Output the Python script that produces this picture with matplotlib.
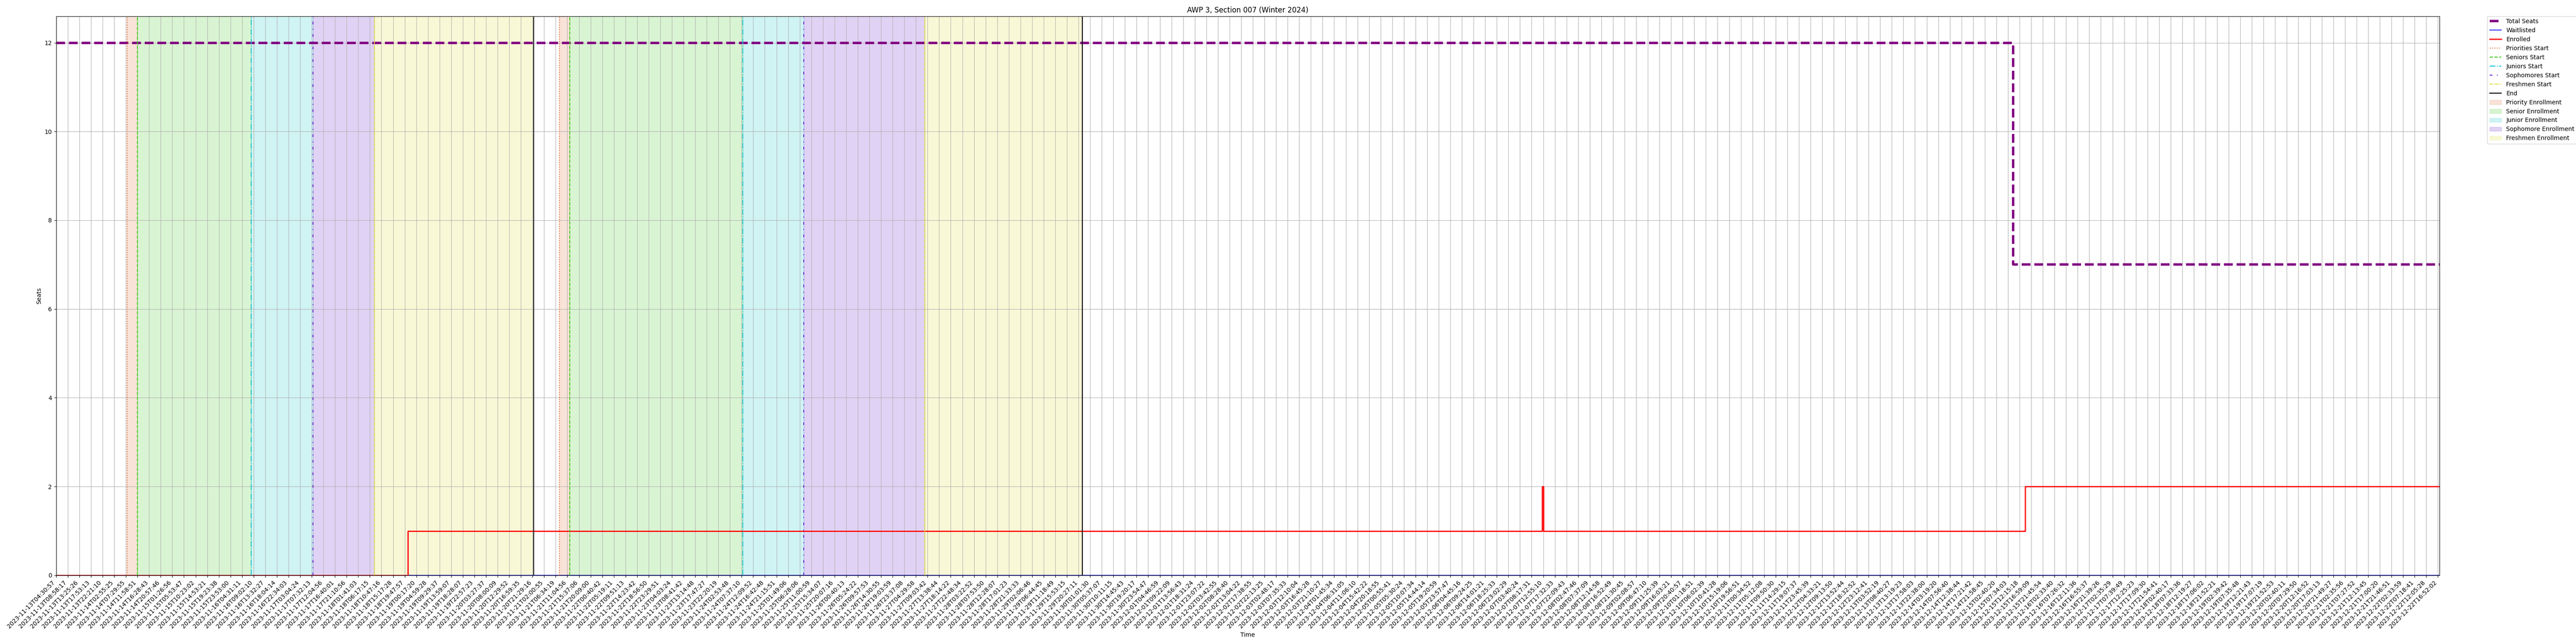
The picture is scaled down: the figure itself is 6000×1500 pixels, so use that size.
import matplotlib
matplotlib.use("Agg")
import numpy as np
import pandas as pd
import matplotlib.pyplot as plt
import matplotlib.dates as mdates

title = "AWP 3, Section 007 (Winter 2024)"

# sampled timestamps shown as tick labels (one tick every k samples, evenly spaced on the axis)
tick_labels = [
    "2023-11-13T04:30:57", "2023-11-13T08:58:17", "2023-11-13T13:25:26", "2023-11-13T17:53:13",
    "2023-11-13T22:21:10", "2023-11-14T02:55:25", "2023-11-14T07:29:55", "2023-11-14T11:58:51",
    "2023-11-14T16:28:43", "2023-11-14T20:57:46", "2023-11-15T01:26:56", "2023-11-15T05:53:47",
    "2023-11-15T10:23:02", "2023-11-15T14:53:21", "2023-11-15T19:23:38", "2023-11-15T23:53:00",
    "2023-11-16T04:31:11", "2023-11-16T09:02:10", "2023-11-16T13:32:27", "2023-11-16T18:04:14",
    "2023-11-16T22:34:03", "2023-11-17T03:04:24", "2023-11-17T07:32:13", "2023-11-17T12:04:56",
    "2023-11-17T16:40:01", "2023-11-17T21:10:56", "2023-11-18T01:41:03", "2023-11-18T06:17:15",
    "2023-11-18T10:47:16", "2023-11-18T15:17:28", "2023-11-18T19:47:57", "2023-11-19T00:17:20",
    "2023-11-19T04:59:28", "2023-11-19T09:29:37", "2023-11-19T13:59:07", "2023-11-19T18:28:07",
    "2023-11-19T22:57:23", "2023-11-20T03:27:37", "2023-11-20T08:00:09", "2023-11-20T12:29:52",
    "2023-11-20T16:59:35", "2023-11-20T21:29:16", "2023-11-21T02:00:55", "2023-11-21T06:34:19",
    "2023-11-21T11:04:56", "2023-11-21T15:37:06", "2023-11-21T20:09:00", "2023-11-22T00:40:42",
    "2023-11-22T05:19:11", "2023-11-22T09:51:13", "2023-11-22T14:23:42", "2023-11-22T18:56:50",
    "2023-11-22T23:29:51", "2023-11-23T04:03:24", "2023-11-23T08:41:42", "2023-11-23T13:14:48",
    "2023-11-23T17:47:27", "2023-11-23T22:20:19", "2023-11-24T02:53:48", "2023-11-24T07:37:10",
    "2023-11-24T12:09:52", "2023-11-24T16:42:48", "2023-11-24T21:15:51", "2023-11-25T01:49:06",
    "2023-11-25T06:28:06", "2023-11-25T11:00:59", "2023-11-25T15:34:07", "2023-11-25T20:07:16",
    "2023-11-26T00:40:13", "2023-11-26T05:24:22", "2023-11-26T09:57:53", "2023-11-26T14:30:55",
    "2023-11-26T19:03:59", "2023-11-26T23:37:08", "2023-11-27T04:29:58", "2023-11-27T09:03:42",
    "2023-11-27T13:38:44", "2023-11-27T18:14:22", "2023-11-27T22:48:34", "2023-11-28T03:22:52",
    "2023-11-28T07:53:50", "2023-11-28T12:28:07", "2023-11-28T17:01:23", "2023-11-28T21:33:33",
    "2023-11-29T02:06:46", "2023-11-29T06:44:45", "2023-11-29T11:18:49", "2023-11-29T15:53:15",
    "2023-11-29T20:27:11", "2023-11-30T01:01:30", "2023-11-30T05:37:07", "2023-11-30T10:11:15",
    "2023-11-30T14:45:43", "2023-11-30T19:20:17", "2023-11-30T23:54:47", "2023-12-01T04:46:59",
    "2023-12-01T09:22:09", "2023-12-01T13:56:43", "2023-12-01T18:31:24", "2023-12-01T23:07:22",
    "2023-12-02T03:42:55", "2023-12-02T08:28:40", "2023-12-02T13:04:22", "2023-12-02T17:38:55",
    "2023-12-02T22:13:25", "2023-12-03T02:48:17", "2023-12-03T07:35:33", "2023-12-03T12:10:04",
    "2023-12-03T16:45:28", "2023-12-03T21:10:27", "2023-12-04T01:45:34", "2023-12-04T06:31:05",
    "2023-12-04T11:06:10", "2023-12-04T15:42:22", "2023-12-04T20:18:55", "2023-12-05T00:55:41",
    "2023-12-05T05:30:24", "2023-12-05T10:07:34", "2023-12-05T14:44:14", "2023-12-05T19:20:59",
    "2023-12-05T23:57:47", "2023-12-06T04:45:16", "2023-12-06T09:24:25", "2023-12-06T14:01:21",
    "2023-12-06T18:25:33", "2023-12-06T23:02:29", "2023-12-07T03:40:24", "2023-12-07T08:17:31",
    "2023-12-07T12:55:10", "2023-12-07T17:32:33", "2023-12-07T22:09:43", "2023-12-08T02:47:46",
    "2023-12-08T07:37:09", "2023-12-08T12:14:58", "2023-12-08T16:52:49", "2023-12-08T21:30:45",
    "2023-12-09T02:08:57", "2023-12-09T06:47:10", "2023-12-09T11:25:39", "2023-12-09T16:03:21",
    "2023-12-09T20:40:57", "2023-12-10T01:18:51", "2023-12-10T06:02:39", "2023-12-10T10:41:28",
    "2023-12-10T15:19:06", "2023-12-10T19:56:51", "2023-12-11T00:34:52", "2023-12-11T05:12:08",
    "2023-12-11T09:50:30", "2023-12-11T14:29:15", "2023-12-11T19:07:37", "2023-12-11T23:45:39",
    "2023-12-12T04:33:21", "2023-12-12T09:13:50", "2023-12-12T13:52:44", "2023-12-12T18:32:52",
    "2023-12-12T23:12:41", "2023-12-13T03:52:19", "2023-12-13T08:40:27", "2023-12-13T13:19:23",
    "2023-12-13T17:58:03", "2023-12-13T22:38:00", "2023-12-14T03:19:20", "2023-12-14T07:56:40",
    "2023-12-14T12:38:44", "2023-12-14T17:21:42", "2023-12-14T21:58:45", "2023-12-15T02:40:20",
    "2023-12-15T07:34:03", "2023-12-15T12:15:18", "2023-12-15T16:59:09", "2023-12-15T21:45:54",
    "2023-12-16T02:33:40", "2023-12-16T07:26:32", "2023-12-16T12:11:36", "2023-12-16T16:55:37",
    "2023-12-16T21:39:26", "2023-12-17T02:35:29", "2023-12-17T07:39:49", "2023-12-17T12:25:23",
    "2023-12-17T17:09:30", "2023-12-17T21:54:41", "2023-12-18T02:40:17", "2023-12-18T07:33:36",
    "2023-12-18T12:19:27", "2023-12-18T17:06:02", "2023-12-18T21:52:21", "2023-12-19T02:39:42",
    "2023-12-19T07:35:48", "2023-12-19T12:21:43", "2023-12-19T17:07:19", "2023-12-19T21:52:53",
    "2023-12-20T02:40:11", "2023-12-20T07:29:50", "2023-12-20T12:16:52", "2023-12-20T17:03:13",
    "2023-12-20T21:49:27", "2023-12-21T02:35:56", "2023-12-21T07:27:52", "2023-12-21T12:13:45",
    "2023-12-21T17:00:20", "2023-12-21T21:46:51", "2023-12-22T02:33:59", "2023-12-22T07:18:41",
    "2023-12-22T12:05:28", "2023-12-22T16:52:02",
]

last_sample = "2023-12-22T17:32:00"

# step series (value holds until next change)
seat_times = ["2023-11-13T04:30:57", "2023-12-15T09:39:00", last_sample]
total_seats = [12, 7, 7]

wait_times = ["2023-11-13T04:30:57", last_sample]
waitlisted = [0, 0]

enroll_times = ["2023-11-13T04:30:57", "2023-11-18T21:00:00", "2023-12-07T12:25:00",
                "2023-12-07T12:56:00", "2023-12-15T14:29:00", last_sample]
enrolled = [0, 1, 2, 1, 2, 2]

# enrollment phases, two passes
priority_start = ["2023-11-14T08:00", "2023-11-21T08:00"]
seniors_start = ["2023-11-14T12:00", "2023-11-21T12:00"]
juniors_start = ["2023-11-16T08:00", "2023-11-24T08:00"]
sophomores_start = ["2023-11-17T08:00", "2023-11-25T08:00"]
freshmen_start = ["2023-11-18T08:00", "2023-11-27T08:00"]
phase_end = ["2023-11-20T22:00", "2023-11-29T22:00"]

c_prio = "#E2703A"
c_senior = "#44CC22"
c_junior = "#18C4CC"
c_soph = "#6622CC"
c_fresh = "#DDDD33"

tick_num = mdates.date2num(pd.to_datetime(tick_labels).to_pydatetime())
tick_idx = np.arange(len(tick_labels))


def to_pos(vals):
    # timestamp -> sample position on the (index based) x axis
    t = mdates.date2num(pd.to_datetime(vals).to_pydatetime())
    pos = np.interp(t, tick_num, tick_idx)
    late = t > tick_num[-1]
    pos[late] = tick_idx[-1] + (t[late] - tick_num[-1]) / (tick_num[-1] - tick_num[-2])
    return pos


fig, ax = plt.subplots(figsize=(60, 15), dpi=100)
fig.subplots_adjust(left=0.0218, right=0.947, top=0.975, bottom=0.1067)

ax.step(to_pos(seat_times), total_seats, where="post", color="purple", linestyle="--",
        linewidth=4, label="Total Seats")
ax.step(to_pos(wait_times), waitlisted, where="post", color="blue", linewidth=1.2,
        label="Waitlisted")
ax.step(to_pos(enroll_times), enrolled, where="post", color="red", linewidth=2,
        label="Enrolled")

starts = [priority_start, seniors_start, juniors_start, sophomores_start, freshmen_start, phase_end]
vstyles = [
    (c_prio, ":", "Priorities Start"),
    (c_senior, "--", "Seniors Start"),
    (c_junior, "-.", "Juniors Start"),
    (c_soph, (0, (3, 5, 1, 5)), "Sophomores Start"),
    (c_fresh, (0, (3, 1, 1, 1)), "Freshmen Start"),
    ("black", "-", "End"),
]
for dates, (col, ls, lab) in zip(starts, vstyles):
    for i, x in enumerate(to_pos(dates)):
        ax.axvline(x, color=col, linestyle=ls, linewidth=1.5, label=lab if i == 0 else None)

spans = [
    (priority_start, seniors_start, c_prio, "Priority Enrollment"),
    (seniors_start, juniors_start, c_senior, "Senior Enrollment"),
    (juniors_start, sophomores_start, c_junior, "Junior Enrollment"),
    (sophomores_start, freshmen_start, c_soph, "Sophomore Enrollment"),
    (freshmen_start, phase_end, c_fresh, "Freshmen Enrollment"),
]
for a, b, col, lab in spans:
    for i, (x0, x1) in enumerate(zip(to_pos(a), to_pos(b))):
        ax.axvspan(x0, x1, color=col, alpha=0.2, label=lab if i == 0 else None)

ax.set_xticks(tick_idx)
ax.set_xticklabels(tick_labels, rotation=45, ha="right")
ax.set_xlim(0, to_pos([last_sample])[0])
ax.set_ylim(bottom=0)

ax.set_title(title)
ax.set_xlabel("Time")
ax.set_ylabel("Seats")
ax.grid(True)
ax.legend(bbox_to_anchor=(1.02, 1), loc="upper left", borderaxespad=0.)

fig.savefig("out.png", dpi=100)
